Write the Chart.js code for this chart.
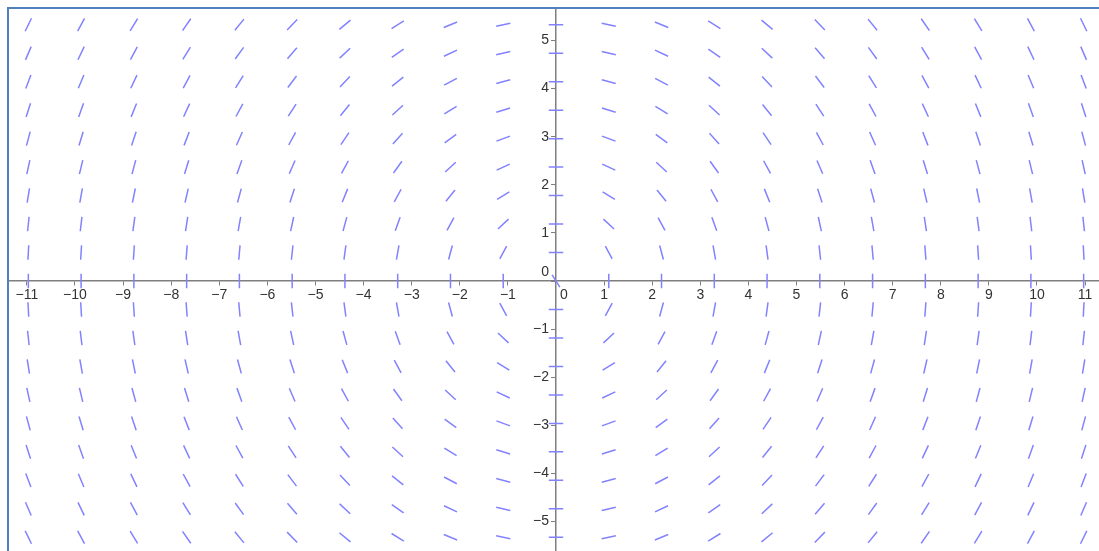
<!DOCTYPE html>
<html>
<head>
<meta charset="utf-8">
<script src="https://cdn.jsdelivr.net/npm/chart.js@4/dist/chart.umd.min.js"></script>
<style>
  html, body { margin: 0; padding: 0; background: #ffffff; }
  body { width: 1099px; height: 551px; overflow: hidden; position: relative; }
  #frame {
    position: absolute; left: 7px; top: 7px; width: 1092px; height: 544px;
    border-top: 2px solid #4f81bd; border-left: 2px solid #4f81bd;
  }
  #wrap { position: absolute; left: 9px; top: 9px; width: 1090px; height: 542px; }
</style>
</head>
<body>
<div id="frame"></div>
<div id="wrap"><canvas id="field"></canvas></div>
<script>
// slope field of dy/dx = -x / y, sampled on a 21 x 19 grid
const xCols = [-10.97, -9.873, -8.776, -7.679, -6.582, -5.485, -4.388, -3.291, -2.194, -1.097,
               0, 1.097, 2.194, 3.291, 4.388, 5.485, 6.582, 7.679, 8.776, 9.873, 10.97];
const yRows = [5.328, 4.736, 4.144, 3.552, 2.96, 2.368, 1.776, 1.184, 0.592,
               0, -0.592, -1.184, -1.776, -2.368, -2.96, -3.552, -4.144, -4.736, -5.328];
const originSlope = -1.57;   // what the picture shows at (0,0)
const segLength = 0.3;

const xRange = [-11.372, 11.289];
const yRange = [-5.613, 5.655];
const xTicks = [-11, -10, -9, -8, -7, -6, -5, -4, -3, -2, -1, 0, 1, 2, 3, 4, 5, 6, 7, 8, 9, 10, 11];
const yTicks = [-5, -4, -3, -2, -1, 0, 1, 2, 3, 4, 5];

// build the little segments, gaps between them so each is drawn on its own
const segPoints = [];
xCols.forEach(x => {
    yRows.forEach(y => {
        let dx = y, dy = -x;
        if (x === 0 && y === 0) { dx = 1; dy = originSlope; }
        const n = Math.hypot(dx, dy);
        const hx = dx / n * segLength / 2, hy = dy / n * segLength / 2;
        segPoints.push({ x: x - hx, y: y - hy });
        segPoints.push({ x: x + hx, y: y + hy });
        segPoints.push({ x: null, y: null });
    });
});

const fmt = v => (v < 0 ? "\u2212" + Math.abs(v) : String(v));
const tickFont = { family: "'Liberation Sans', Arial, sans-serif", size: 14 };

// axes sit inside the plot, so they should not eat any room round it
const noPadding = scale => {
    scale.paddingTop = 0;
    scale.paddingBottom = 0;
    scale.paddingLeft = 0;
    scale.paddingRight = 0;
};

new Chart(document.getElementById("field"), {
    type: "scatter",
    data: {
        datasets: [{
            data: segPoints,
            showLine: true,
            spanGaps: false,
            borderColor: "#8282ff",
            borderWidth: 1.5,
            pointRadius: 0,
            pointHoverRadius: 0
        }]
    },
    options: {
        responsive: true,
        maintainAspectRatio: false,
        animation: false,
        layout: { padding: 0 },
        plugins: { legend: { display: false }, tooltip: { enabled: false } },
        scales: {
            x: {
                type: "linear",
                min: xRange[0],
                max: xRange[1],
                position: { y: 0 },
                afterBuildTicks: axis => { axis.ticks = xTicks.map(v => ({ value: v })); },
                afterFit: noPadding,
                grid: { drawOnChartArea: false, drawTicks: true, tickLength: 4, tickColor: "#7f7f7f" },
                border: { display: true, color: "#7f7f7f", width: 1.5 },
                ticks: {
                    autoSkip: false, maxRotation: 0, padding: 2, color: "#333333", font: tickFont,
                    callback: v => (v === 0 ? "\u2007\u20070" : fmt(v))
                }
            },
            y: {
                type: "linear",
                min: yRange[0],
                max: yRange[1],
                position: { x: 0 },
                afterBuildTicks: axis => { axis.ticks = yTicks.map(v => ({ value: v })); },
                afterFit: noPadding,
                grid: { drawOnChartArea: false, drawTicks: true, tickLength: 4, tickColor: "#7f7f7f" },
                border: { display: true, color: "#7f7f7f", width: 1.5 },
                ticks: {
                    autoSkip: false, padding: 2, color: "#333333", font: tickFont,
                    callback: v => (v === 0 ? ["0\u2002", ""] : fmt(v) + "\u2002")
                }
            }
        }
    }
});
</script>
</body>
</html>
